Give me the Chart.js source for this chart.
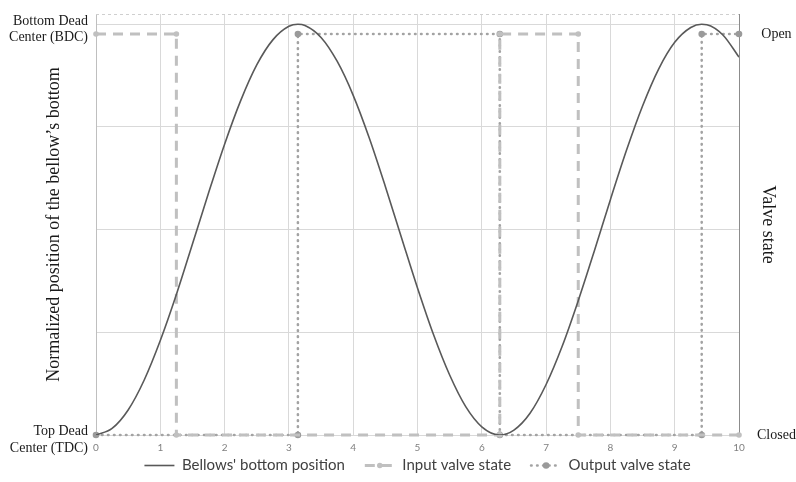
<!DOCTYPE html>
<html>
<head>
<meta charset="utf-8">
<script src="https://cdn.jsdelivr.net/npm/chart.js@4"></script>
<style>
  html, body { margin: 0; padding: 0; background: #fff; }
  #wrap { width: 796px; height: 482px; }
</style>
</head>
<body>
<div id="wrap"><canvas id="myChart" width="796" height="482"></canvas></div>
<script>
// Values
const bellowsX = [0, 0.25, 0.5, 0.75, 1, 1.25, 1.5, 1.75, 2, 2.25, 2.5, 2.75, 3, 3.14, 3.25, 3.5, 3.75, 4, 4.25, 4.5, 4.75, 5, 5.25, 5.5, 5.75, 6, 6.28, 6.5, 6.75, 7, 7.25, 7.5, 7.75, 8, 8.25, 8.5, 8.75, 9, 9.25, 9.42, 9.5, 9.75, 10];
const bellowsY = [0, 0.016, 0.061, 0.134, 0.23, 0.342, 0.465, 0.589, 0.708, 0.814, 0.901, 0.962, 0.995, 1, 0.997, 0.968, 0.91, 0.827, 0.723, 0.605, 0.481, 0.358, 0.244, 0.146, 0.069, 0.02, 0, 0.012, 0.053, 0.123, 0.216, 0.327, 0.448, 0.573, 0.693, 0.801, 0.891, 0.956, 0.992, 1, 0.999, 0.974, 0.92];

const inputX = [0, 1.25, 1.25, 6.28, 6.28, 7.5, 7.5, 10];
const inputY = [1, 1, 0, 0, 1, 1, 0, 0];

const outputX = [0, 3.14, 3.14, 6.28, 6.28, 9.42, 9.42, 10];
const outputY = [0, 0, 1, 1, 0, 0, 1, 1];

const positionTicks = [0, 1];
const positionTickLabels = [['Top Dead', 'Center (TDC)'], ['Bottom Dead', 'Center (BDC)']];
const valveTicks = [0, 1];
const valveTickLabels = ['Closed', 'Open'];

const toPoints = (xs, ys) => xs.map((x, i) => ({ x: x, y: ys[i] }));

// dashed top edge of the plot + markers inside legend symbols
const extras = {
    id: 'extras',
    beforeDatasetsDraw(chart) {
        const { ctx, chartArea: a } = chart;
        ctx.save();
        ctx.strokeStyle = '#cfcfcf';
        ctx.lineWidth = 1;
        ctx.setLineDash([3, 3]);
        ctx.beginPath();
        ctx.moveTo(a.left, a.top + 0.5);
        ctx.lineTo(a.right, a.top + 0.5);
        ctx.stroke();
        ctx.restore();
    },
    afterDraw(chart) {
        const lg = chart.legend;
        if (!lg || !lg.legendHitBoxes) return;
        const { ctx } = chart;
        [1, 2].forEach(i => {
            const hb = lg.legendHitBoxes[i];
            const ds = chart.data.datasets[i];
            ctx.save();
            ctx.fillStyle = ds.pointBackgroundColor;
            ctx.beginPath();
            ctx.arc(hb.left + 15, hb.top + hb.height / 2, ds.pointRadius, 0, Math.PI * 2);
            ctx.fill();
            ctx.restore();
        });
    }
};

const data = {
    datasets: [{
        label: "Bellows' bottom position",
        data: toPoints(bellowsX, bellowsY),
        yAxisID: 'y',
        borderColor: '#595959',
        backgroundColor: '#595959',
        borderWidth: 1.6,
        pointRadius: 0,
        cubicInterpolationMode: 'monotone'
    }, {
        label: 'Input valve state',
        data: toPoints(inputX, inputY),
        yAxisID: 'y1',
        borderColor: '#c0c0c0',
        backgroundColor: '#c0c0c0',
        borderWidth: 3,
        borderDash: [10, 7],
        pointRadius: 2.8,
        pointBackgroundColor: '#c0c0c0',
        pointBorderWidth: 0,
        clip: false
    }, {
        label: 'Output valve state',
        data: toPoints(outputX, outputY),
        yAxisID: 'y1',
        borderColor: '#a3a3a3',
        backgroundColor: '#a3a3a3',
        borderWidth: 2.6,
        borderDash: [0.5, 5.5],
        borderCapStyle: 'round',
        pointRadius: 3.3,
        pointBackgroundColor: '#9a9a9a',
        pointBorderWidth: 0,
        clip: false
    }]
};

const config = {
    type: 'line',
    data: data,
    options: {
        responsive: false,
        animation: false,
        layout: { padding: { top: 14, right: 0, bottom: -1, left: 0 } },
        plugins: {
            tooltip: { enabled: false },
            legend: {
                position: 'bottom',
                fullSize: false,
                labels: {
                    font: { family: 'Lato', size: 15 },
                    color: '#404040',
                    usePointStyle: true,
                    pointStyleWidth: 30,
                    padding: 20,
                    generateLabels(chart) {
                        return Chart.defaults.plugins.legend.labels.generateLabels(chart).map(l => {
                            const ds = chart.data.datasets[l.datasetIndex];
                            return Object.assign(l, {
                                pointStyle: 'line',
                                lineWidth: ds.borderWidth,
                                strokeStyle: ds.borderColor,
                                lineDash: ds.borderDash || [],
                                lineCap: ds.borderCapStyle || 'butt'
                            });
                        });
                    }
                }
            }
        },
        scales: {
            x: {
                type: 'linear',
                min: 0,
                max: 10,
                ticks: { stepSize: 1, mirror: true, padding: -19, color: '#808080', font: { family: 'Lato', size: 10 } },
                grid: { color: '#d9d9d9', drawTicks: false },
                border: { color: '#d9d9d9' },
                afterFit(s) { s.height = 3; s.paddingLeft = 0; s.paddingRight = 0; }
            },
            y: {
                position: 'left',
                min: 0,
                max: 1.025,
                ticks: {
                    stepSize: 0.25,
                    includeBounds: false,
                    padding: 8,
                    labelOffset: 5,
                    color: '#1a1a1a',
                    font: { family: 'Liberation Serif', size: 14 },
                    callback(v) {
                        const i = positionTicks.indexOf(v);
                        return i < 0 ? '' : positionTickLabels[i];
                    }
                },
                grid: { color: '#d9d9d9', drawTicks: false },
                border: { color: '#bfbfbf' },
                title: {
                    display: true,
                    text: 'Normalized position of the bellow\u2019s bottom',
                    color: '#1a1a1a',
                    font: { family: 'Liberation Serif', size: 18 },
                    padding: { top: 43, bottom: 0 }
                },
                afterFit(s) { s.width = 96; s.paddingTop = 0; s.paddingBottom = 0; }
            },
            y1: {
                position: 'right',
                min: 0,
                max: 1.05,
                afterBuildTicks(s) { s.ticks = valveTicks.map(v => ({ value: v })); },
                ticks: {
                    crossAlign: 'center',
                    padding: 18,
                    color: '#1a1a1a',
                    font: { family: 'Liberation Serif', size: 14 },
                    callback(v) {
                        const i = valveTicks.indexOf(v);
                        return i < 0 ? '' : valveTickLabels[i];
                    }
                },
                grid: { display: false, drawTicks: false },
                border: { display: true, color: '#8c8c8c' },
                title: {
                    display: true,
                    text: 'Valve state',
                    color: '#1a1a1a',
                    font: { family: 'Liberation Serif', size: 18 },
                    padding: { top: 17, bottom: 0 }
                },
                afterFit(s) { s.width = 57; s.paddingTop = 0; s.paddingBottom = 0; }
            }
        }
    },
    plugins: [extras]
};

// Render the chart
const myChart = new Chart(document.getElementById('myChart'), config);
</script>
</body>
</html>
